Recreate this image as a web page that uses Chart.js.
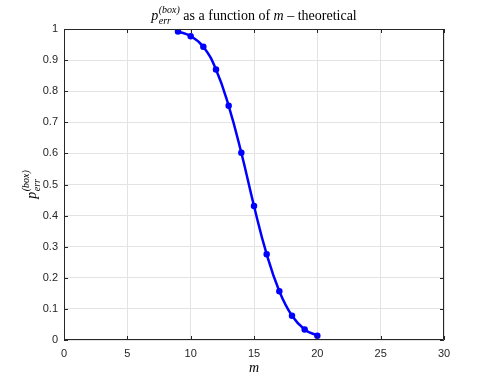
<!DOCTYPE html>
<html>
<head>
<meta charset="utf-8">
<script src="https://cdn.jsdelivr.net/npm/chart.js@4.4.1/dist/chart.umd.min.js"></script>
<style>
  html, body { margin: 0; padding: 0; background: #fff; }
  #wrap { width: 491px; height: 382px; position: relative; }
</style>
</head>
<body>
<div id="wrap"><canvas id="chart"></canvas></div>
<script>
// données
const mValues = [9, 10, 11, 12, 13, 14, 15, 16, 17, 18, 19, 20];
const pErrBox = [0.992, 0.977, 0.943, 0.870, 0.753, 0.602, 0.431, 0.276, 0.157, 0.078, 0.034, 0.014];
const xTicks = [0, 5, 10, 15, 20, 25, 30];
const yTicks = [0, 0.1, 0.2, 0.3, 0.4, 0.5, 0.6, 0.7, 0.8, 0.9, 1];

const SERIF = '"Liberation Serif", "DejaVu Serif", serif';
const SANS = '"Liberation Sans", Arial, sans-serif';
const TEXT = '#262626';

// p_err^(box) façon LaTeX, retourne la largeur
function drawPerr(ctx, x, y, size, measureOnly) {
    const small = Math.round(size * 0.7);
    ctx.font = 'italic ' + size + 'px ' + SERIF;
    const wp = ctx.measureText('p').width;
    ctx.font = 'italic ' + small + 'px ' + SERIF;
    const wSub = ctx.measureText('err').width;
    const wSup = ctx.measureText('(box)').width;
    if (!measureOnly) {
        ctx.font = 'italic ' + size + 'px ' + SERIF;
        ctx.fillText('p', x, y);
        ctx.font = 'italic ' + small + 'px ' + SERIF;
        ctx.fillText('err', x + wp + 0.5, y + size * 0.28);
        ctx.fillText('(box)', x + wp + 0.5, y - size * 0.5);
    }
    return wp + 0.5 + Math.max(wSub, wSup);
}

const mathText = {
    id: 'mathText',
    afterDraw(chart) {
        const ctx = chart.ctx;
        const area = chart.chartArea;
        ctx.save();
        ctx.fillStyle = '#000';
        ctx.textAlign = 'left';
        ctx.textBaseline = 'alphabetic';

        // titre
        const size = 14;
        const parts = [
            { t: ' as a function of ', f: size + 'px ' + SERIF },
            { t: 'm', f: 'italic ' + size + 'px ' + SERIF },
            { t: ' \u2013 theoretical', f: size + 'px ' + SERIF }
        ];
        let total = drawPerr(ctx, 0, 0, size, true);
        parts.forEach(p => { ctx.font = p.f; total += ctx.measureText(p.t).width; });
        let x = (area.left + area.right) / 2 - total / 2;
        const yTitle = 20;
        x += drawPerr(ctx, x, yTitle, size, false);
        parts.forEach(p => {
            ctx.font = p.f;
            ctx.fillText(p.t, x, yTitle);
            x += ctx.measureText(p.t).width;
        });

        // étiquette axe x
        ctx.font = 'italic 14px ' + SERIF;
        ctx.textAlign = 'center';
        ctx.fillText('m', (area.left + area.right) / 2, 372);

        // étiquette axe y
        ctx.textAlign = 'left';
        const w = drawPerr(ctx, 0, 0, 14, true);
        ctx.translate(36, (area.top + area.bottom) / 2 + w / 2);
        ctx.rotate(-Math.PI / 2);
        drawPerr(ctx, 0, 0, 14, false);
        ctx.restore();

        // cadre + graduations intérieures
        ctx.save();
        ctx.strokeStyle = TEXT;
        ctx.lineWidth = 1;
        ctx.beginPath();
        ctx.rect(area.left + 0.5, area.top + 0.5, area.right - area.left - 1, area.bottom - area.top - 1);
        const xs = chart.scales.x, ys = chart.scales.y;
        xTicks.forEach(v => {
            const px = Math.round(xs.getPixelForValue(v)) + 0.5;
            ctx.moveTo(px, area.bottom); ctx.lineTo(px, area.bottom - 4);
            ctx.moveTo(px, area.top); ctx.lineTo(px, area.top + 4);
        });
        yTicks.forEach(v => {
            const py = Math.round(ys.getPixelForValue(v)) + 0.5;
            ctx.moveTo(area.left, py); ctx.lineTo(area.left + 4, py);
            ctx.moveTo(area.right, py); ctx.lineTo(area.right - 4, py);
        });
        ctx.stroke();
        ctx.restore();
    }
};

new Chart(document.getElementById('chart'), {
    type: 'line',
    data: {
        datasets: [{
            data: mValues.map((m, i) => ({ x: m, y: pErrBox[i] })),
            borderColor: '#0000ff',
            backgroundColor: '#0000ff',
            borderWidth: 2.5,
            pointRadius: 2,
            pointHoverRadius: 2,
            tension: 0.45,
            fill: false
        }]
    },
    options: {
        responsive: true,
        maintainAspectRatio: false,
        animation: false,
        layout: { padding: { top: 29, right: 47, left: 0, bottom: 0 } },
        plugins: {
            legend: { display: false },
            title: { display: false },
            tooltip: { enabled: false }
        },
        scales: {
            x: {
                type: 'linear',
                min: 0,
                max: 30,
                afterBuildTicks: s => { s.ticks = xTicks.map(v => ({ value: v })); },
                afterFit: s => { s.height = 42; },
                grid: { color: '#e3e3e3', drawTicks: false },
                border: { display: false },
                ticks: { color: TEXT, font: { family: SANS, size: 11 }, padding: 7 }
            },
            y: {
                min: 0,
                max: 1,
                afterBuildTicks: s => { s.ticks = yTicks.map(v => ({ value: v })); },
                afterFit: s => { s.width = 64; },
                grid: { color: '#e3e3e3', drawTicks: false },
                border: { display: false },
                ticks: { color: TEXT, font: { family: SANS, size: 11 }, padding: 6,
                         callback: v => String(Math.round(v * 10) / 10) }
            }
        }
    },
    plugins: [mathText]
});
</script>
</body>
</html>
